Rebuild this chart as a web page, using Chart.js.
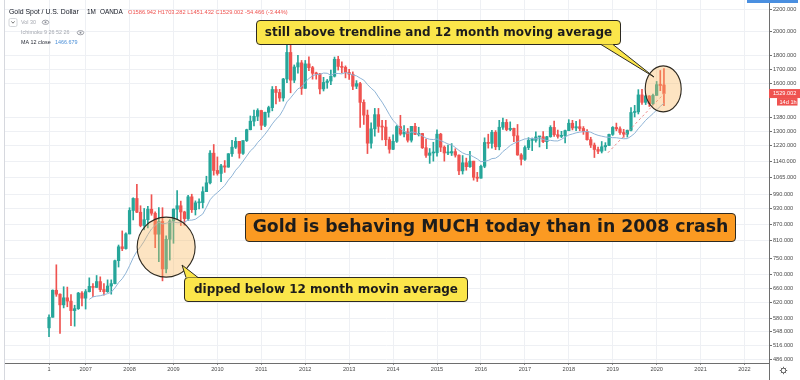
<!DOCTYPE html>
<html><head><meta charset="utf-8">
<script src="https://cdn.jsdelivr.net/npm/chart.js@4.4.1/dist/chart.umd.min.js"></script>
<style>html,body{margin:0;padding:0;background:#fff;}canvas{display:block;}</style>
</head><body>
<canvas id="c" width="800" height="380"></canvas>
<script>
// ---- data (monthly XAU/USD candles, Mar 2006 .. Mar 2020) ----
const xTickIndex  = [0,10,22,34,46,58,70,82,94,106,118,130,142,154,166,178,190];
const xTickLabels = ['1','2007','2008','2009','2010','2011','2012','2013','2014','2015','2016','2017','2018','2019','2020','2021','2022'];
const yTickValues = [486,516,548,580,620,660,700,750,810,870,930,990,1065,1140,1220,1300,1380,1600,1700,1800,2000,2200];

const opens = [
 556,582,654,643,614,633,624,599,604,646,
 632,650,665,662,679,656,650,666,673,743,789,783,
 834,923,972,916,865,887,928,912,833,880,717,815,
 882,928,942,917,891,979,926,954,955,1001,1040,1182,
 1097,1083,1119,1113,1179,1213,1244,1181,1248,1308,1357,1386,
 1421,1333,1410,1439,1556,1536,1500,1628,1826,1620,1715,1746,
 1564,1738,1710,1669,1664,1560,1604,1614,1648,1773,1719,1712,
 1675,1662,1578,1596,1472,1393,1234,1313,1396,1327,1323,1253,
 1202,1244,1326,1284,1296,1250,1327,1282,1287,1210,1171,1183,
 1184,1283,1213,1183,1183,1190,1172,1095,1134,1115,1142,1065,
 1061,1117,1238,1233,1293,1215,1322,1350,1309,1316,1274,1173,
 1151,1211,1249,1249,1268,1269,1242,1269,1321,1280,1271,1275,
 1303,1345,1318,1325,1315,1298,1253,1224,1201,1192,1215,1222,
 1282,1321,1313,1292,1283,1305,1409,1413,1520,1472,1513,1464,
 1517,1589,1586.942];
const highs = [
 588,655,730,644,664,663,642,613,648,650,
 656,690,673,697,693,673,684,684,745,795,845,838,
 934,975,1033,942,931,940,988,918,935,934,827,887,
 930,1006,961,920,985,990,962,970,1022,1070,1195,1227,
 1163,1127,1145,1180,1249,1265,1243,1248,1311,1388,1424,1432,
 1423,1411,1448,1576,1577,1557,1633,1913,1921,1730,1803,1764,
 1764,1791,1720,1677,1668,1640,1625,1692,1790,1796,1754,1723,
 1697,1679,1617,1605,1488,1424,1348,1434,1434,1362,1362,1267,
 1280,1332,1392,1331,1315,1327,1345,1322,1288,1256,1206,1239,
 1307,1288,1220,1224,1232,1205,1174,1170,1157,1191,1142,1088,
 1123,1263,1283,1304,1303,1362,1375,1367,1353,1317,1338,1180,
 1220,1264,1262,1296,1271,1297,1271,1331,1358,1306,1299,1306,
 1366,1362,1356,1366,1326,1309,1266,1235,1214,1243,1237,1284,
 1326,1346,1324,1310,1306,1439,1453,1555,1557,1517,1516,1525,
 1611,1689,1703.282];
const lows = [
 535,582,637,543,606,609,561,560,602,611,
 603,649,636,662,650,640,648,643,672,723,776,781,
 834,886,914,860,849,856,904,786,740,681,705,745,
 801,890,865,866,884,915,905,929,933,1001,1035,1075,
 1075,1045,1088,1112,1166,1206,1157,1176,1243,1307,1330,1360,
 1308,1325,1381,1419,1462,1478,1480,1603,1534,1603,1670,1523,
 1563,1688,1627,1627,1527,1546,1564,1589,1642,1692,1672,1636,
 1625,1555,1562,1321,1338,1180,1208,1272,1293,1251,1221,1182,
 1200,1238,1277,1268,1240,1240,1280,1273,1206,1161,1131,1142,
 1167,1190,1142,1175,1170,1162,1077,1080,1098,1112,1052,1046,
 1061,1110,1208,1208,1200,1199,1310,1302,1302,1242,1171,1123,
 1146,1200,1195,1240,1214,1237,1205,1266,1271,1261,1264,1236,
 1302,1307,1303,1302,1282,1250,1211,1160,1180,1183,1196,1221,
 1276,1302,1281,1266,1267,1301,1382,1400,1459,1458,1446,1456,
 1517,1548,1451.432];
const closes = [
 582,654,643,614,633,624,599,604,646,632,
 650,665,662,679,656,650,666,673,743,789,783,834,
 923,972,916,865,887,928,912,833,880,717,815,882,
 928,942,917,891,979,926,954,955,1001,1040,1182,1097,
 1083,1119,1113,1179,1213,1244,1181,1248,1308,1357,1386,1421,
 1333,1410,1439,1556,1536,1500,1628,1826,1620,1715,1746,1564,
 1738,1710,1669,1664,1560,1604,1614,1648,1773,1719,1712,1675,
 1662,1578,1596,1472,1393,1234,1313,1396,1327,1323,1253,1202,
 1244,1326,1284,1296,1250,1327,1282,1287,1210,1171,1183,1184,
 1283,1213,1183,1183,1190,1172,1095,1134,1115,1142,1065,1061,
 1117,1238,1233,1293,1215,1322,1350,1309,1316,1274,1173,1151,
 1211,1249,1249,1268,1269,1242,1269,1321,1280,1271,1275,1303,
 1345,1318,1325,1315,1298,1253,1224,1201,1192,1215,1222,1282,
 1321,1313,1292,1283,1305,1409,1413,1520,1472,1513,1464,1517,
 1589,1583.468,1529.002];
// hand-drawn dashed trendline (month index, price)
const trendline = [{x:152.7, y:1184}, {x:168.6, y:1543}];
const maPeriod = 12;

// header texts
const titleText = 'Gold Spot / U.S. Dollar';
const intervalText = '1M';
const brokerText = 'OANDA';
const ohlcText = 'O1586.942 H1703.282 L1451.432 C1529.002 -54.466 (-3.44%)';
const volText = 'Vol 30';
const ichiText = 'Ichimoku 9 26 52 26';
const maLabelText = 'MA 12 close';
const maValueText = '1466.679';
const countdownText = '14d 1h';
const note1 = 'still above trendline and 12 month moving average';
const note2 = 'dipped below 12 month movin average';
const note3 = 'Gold is behaving MUCH today than in 2008 crash';

// ---- build datasets ----
const UP = '#26a69a', DOWN = '#ef5350';
const idx = closes.map((_, i) => i);
const colors = idx.map(i => closes[i] >= opens[i] ? UP : DOWN);
const bodies = idx.map(i => ({x: i, y: [opens[i], closes[i]]}));
const wicks = idx.map(i => ({x: i, y: [lows[i], highs[i]]}));
const ma = [];
for (let i = maPeriod - 1; i < closes.length; i++) {
  let s = 0; for (let k = i - maPeriod + 1; k <= i; k++) s += closes[k];
  ma.push({x: i, y: s / maPeriod});
}

Chart.defaults.font.family = '"Liberation Sans", Arial, sans-serif';

function rr(ctx, x, y, w, h, r) {
  ctx.beginPath(); ctx.moveTo(x + r, y);
  ctx.arcTo(x + w, y, x + w, y + h, r); ctx.arcTo(x + w, y + h, x, y + h, r);
  ctx.arcTo(x, y + h, x, y, r); ctx.arcTo(x, y, x + w, y, r); ctx.closePath();
}
function eye(ctx, cx, cy) {
  ctx.strokeStyle = '#8a8d96'; ctx.fillStyle = '#8a8d96'; ctx.lineWidth = 0.8;
  ctx.beginPath(); ctx.ellipse(cx, cy, 3.3, 2.1, 0, 0, Math.PI * 2); ctx.stroke();
  ctx.beginPath(); ctx.arc(cx, cy, 1, 0, Math.PI * 2); ctx.fill();
}
function callout(ctx, bx, by, bw, bh, p1, tip, p2, text, font, fill) {
  rr(ctx, bx, by, bw, bh, 3.5);
  ctx.fillStyle = fill; ctx.fill();
  ctx.strokeStyle = '#2d2a22'; ctx.lineWidth = 1; ctx.stroke();
  if (tip) {
    ctx.beginPath(); ctx.moveTo(p1[0], p1[1]); ctx.lineTo(tip[0], tip[1]); ctx.lineTo(p2[0], p2[1]); ctx.closePath();
    ctx.fillStyle = fill; ctx.fill();
    ctx.beginPath(); ctx.moveTo(p1[0], p1[1]); ctx.lineTo(tip[0], tip[1]); ctx.lineTo(p2[0], p2[1]);
    ctx.stroke();
  }
  ctx.fillStyle = '#1c1c1c'; ctx.font = font; ctx.textAlign = 'center'; ctx.textBaseline = 'middle';
  ctx.fillText(text, bx + bw / 2, by + bh / 2 + 0.5);
}

const overlay = {
  id: 'overlay',
  afterDraw(chart) {
    const {ctx} = chart; const xs = chart.scales.x, ys = chart.scales.y;
    ctx.save();
    // frame lines
    ctx.strokeStyle = '#d6d8de'; ctx.lineWidth = 1;
    ctx.beginPath(); ctx.moveTo(4.5, 0); ctx.lineTo(4.5, 380); ctx.stroke();
    ctx.strokeStyle = '#6e6e6e';
    ctx.beginPath(); ctx.moveTo(769.5, 363); ctx.lineTo(769.5, 380); ctx.stroke();
    // top-right blue tag
    ctx.fillStyle = '#4a8fe0'; ctx.fillRect(747, 0, 51, 3);
    // gear icon
    ctx.strokeStyle = '#555'; ctx.lineWidth = 0.9;
    ctx.beginPath(); ctx.arc(783.5, 370.5, 2.3, 0, Math.PI * 2); ctx.stroke();
    for (let a = 0; a < 8; a++) {
      const t = a * Math.PI / 4;
      ctx.beginPath(); ctx.moveTo(783.5 + Math.cos(t) * 2.3, 370.5 + Math.sin(t) * 2.3);
      ctx.lineTo(783.5 + Math.cos(t) * 3.7, 370.5 + Math.sin(t) * 3.7); ctx.stroke();
    }
    // price labels
    const last = closes[closes.length - 1];
    const py = ys.getPixelForValue(last);
    ctx.fillStyle = DOWN; ctx.fillRect(769, py - 4.5, 31, 9);
    ctx.fillRect(777, py + 4.5, 20.5, 7.5);
    ctx.fillStyle = '#fff'; ctx.font = '5.6px "Liberation Sans", Arial'; ctx.textAlign = 'left'; ctx.textBaseline = 'middle';
    ctx.fillText(last.toFixed(3), 773, py + 0.3);
    ctx.fillText(countdownText, 779.5, py + 8.4);

    // ovals
    const ovals = [
      {cx: xs.getPixelForValue(167.8), cy: ys.getPixelForValue(1560), rx: 18, ry: 23},
      {cx: xs.getPixelForValue(32), cy: ys.getPixelForValue(788), rx: 29, ry: 30}
    ];
    ovals.forEach(o => {
      ctx.beginPath(); ctx.ellipse(o.cx, o.cy, o.rx, o.ry, 0, 0, Math.PI * 2);
      ctx.fillStyle = 'rgba(250,185,95,0.38)'; ctx.fill();
      ctx.strokeStyle = '#2f2a20'; ctx.lineWidth = 1.1; ctx.stroke();
    });

    // callouts
    callout(ctx, 256.5, 20.5, 364, 24, [601, 44.5], [654, 77], [613, 44.5], note1, 'bold 12px "DejaVu Sans", Verdana, sans-serif', '#fbe64a');
    callout(ctx, 184.5, 277.5, 283, 24, [186, 277.5], [182, 265], [198, 277.5], note2, 'bold 12px "DejaVu Sans", Verdana, sans-serif', '#fbe64a');
    callout(ctx, 245.5, 213.5, 490, 28, null, null, null, note3, 'bold 17.3px "DejaVu Sans", Verdana, sans-serif', '#fb9a22');

    // header / legend
    ctx.textAlign = 'left'; ctx.textBaseline = 'middle';
    ctx.fillStyle = '#131722'; ctx.font = '6.9px "Liberation Sans", Arial';
    ctx.fillText(titleText, 9, 12);
    ctx.font = '6.4px "Liberation Sans", Arial';
    ctx.fillText(intervalText, 87, 12);
    ctx.fillText(brokerText, 100, 12);
    ctx.fillStyle = DOWN; ctx.font = '5.7px "Liberation Sans", Arial';
    ctx.fillText(ohlcText, 128, 12);
    // collapse box
    rr(ctx, 9, 18.5, 8, 8, 1.5); ctx.strokeStyle = '#c9cbd1'; ctx.lineWidth = 0.8; ctx.stroke();
    ctx.strokeStyle = '#555'; ctx.beginPath(); ctx.moveTo(11.4, 21.4); ctx.lineTo(13, 23.2); ctx.lineTo(14.6, 21.4); ctx.stroke();
    ctx.font = '5.4px "Liberation Sans", Arial';
    ctx.fillStyle = '#a6a9b1'; ctx.fillText(volText, 21, 22.3);
    eye(ctx, 45.5, 22.3);
    ctx.fillStyle = '#a6a9b1'; ctx.fillText(ichiText, 21, 32.7);
    eye(ctx, 80.5, 32.7);
    ctx.fillStyle = '#2a2e39'; ctx.fillText(maLabelText, 21, 43);
    ctx.fillStyle = '#4a8fd8'; ctx.fillText(maValueText, 55, 43);
    ctx.restore();
  }
};

new Chart(document.getElementById('c'), {
  type: 'bar',
  data: {
    datasets: [
      {type: 'line', data: ma, borderColor: '#8fb4d6', borderWidth: 1, pointRadius: 0, fill: false, tension: 0, order: 0},
      {type: 'line', data: trendline, borderColor: '#ee8a8a', borderWidth: 1, borderDash: [2.5, 2.5], pointRadius: 0, fill: false, order: 0},
      {data: bodies, backgroundColor: colors, barThickness: 2.6, minBarLength: 1, grouped: false, order: 1},
      {data: wicks, backgroundColor: colors, barThickness: 1, grouped: false, order: 2}
    ]
  },
  options: {
    responsive: false, animation: false, maintainAspectRatio: false,
    layout: {padding: {left: 4, right: 0, top: 0, bottom: 0}},
    plugins: {legend: {display: false}, tooltip: {enabled: false}},
    scales: {
      x: {
        type: 'linear', min: -12.3, max: 196.7, offset: false,
        grid: {offset: false, color: '#eef0f4', tickColor: '#8a8a8a', tickLength: 2},
        border: {color: '#6e6e6e'},
        ticks: {autoSkip: false, maxRotation: 0, minRotation: 0, padding: 1.5, color: '#4a4a4a', font: {size: 5.6},
          callback: (v, i) => xTickLabels[i]},
        afterBuildTicks: s => { s.ticks = xTickIndex.map(v => ({value: v})); },
        afterFit: s => { s.height = 17; s.paddingLeft = 0; s.paddingRight = 0; }
      },
      y: {
        type: 'logarithmic', position: 'right', min: 477.7, max: 2290, beginAtZero: false,
        grid: {color: '#eef0f4', tickColor: '#6e6e6e', tickLength: 3},
        border: {color: '#6e6e6e'},
        ticks: {autoSkip: false, padding: 1, color: '#4a4a4a', font: {size: 5.6},
          callback: v => Number(v).toFixed(3)},
        afterBuildTicks: s => { s.ticks = yTickValues.map(v => ({value: v})); },
        afterFit: s => { s.width = 31; s.paddingTop = 0; s.paddingBottom = 0; }
      }
    }
  },
  plugins: [overlay]
});
</script>
</body></html>
